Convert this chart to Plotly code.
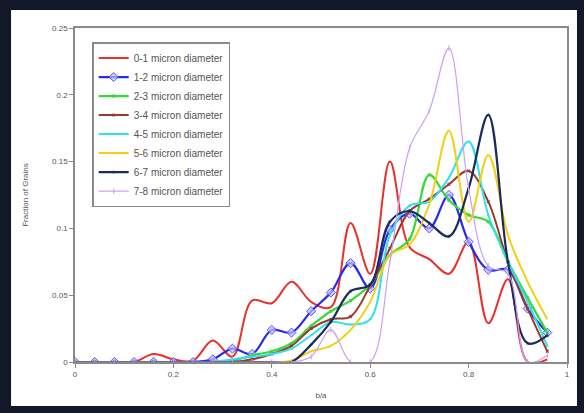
import plotly.graph_objects as go

x_vals = [0, 0.04, 0.08, 0.12, 0.16, 0.2, 0.24, 0.28, 0.32, 0.36, 0.4, 0.44, 0.48,
          0.52, 0.56, 0.6, 0.64, 0.68, 0.72, 0.76, 0.8, 0.84, 0.88, 0.92, 0.96]

d01 = [0, 0, 0, 0, 0.006, 0.002, 0.001, 0.016, 0.004, 0.046, 0.044, 0.060, 0.045,
       0.041, 0.104, 0.066, 0.150, 0.086, 0.077, 0.066, 0.090, 0.029, 0.062, 0.0, 0.002]
d12 = [0, 0, 0, 0, 0, 0, 0, 0.002, 0.010, 0.006, 0.024, 0.022, 0.038,
       0.052, 0.074, 0.055, 0.099, 0.111, 0.100, 0.125, 0.090, 0.069, 0.069, 0.040, 0.022]
d23 = [0, 0, 0, 0, 0, 0, 0, 0, 0.001, 0.005, 0.008, 0.014, 0.027,
       0.038, 0.046, 0.058, 0.080, 0.092, 0.140, 0.121, 0.110, 0.105, 0.075, 0.048, 0.022]
d34 = [0, 0, 0, 0, 0, 0, 0, 0, 0, 0.002, 0.006, 0.012, 0.025,
       0.032, 0.034, 0.057, 0.085, 0.113, 0.122, 0.133, 0.143, 0.120, 0.075, 0.040, 0.008]
d45 = [0, 0, 0, 0, 0, 0, 0, 0, 0.002, 0.004, 0.006, 0.010, 0.020,
       0.030, 0.028, 0.032, 0.095, 0.117, 0.120, 0.138, 0.165, 0.110, 0.075, 0.045, 0.012]
d56 = [0, 0, 0, 0, 0, 0, 0, 0, 0, 0, 0, 0.001, 0.008,
       0.012, 0.024, 0.045, 0.080, 0.088, 0.118, 0.173, 0.105, 0.155, 0.095, 0.060, 0.032]
d67 = [0, 0, 0, 0, 0, 0, 0, 0, 0, 0, 0, 0.0, 0.013,
       0.030, 0.053, 0.058, 0.105, 0.113, 0.104, 0.094, 0.130, 0.185, 0.075, 0.014, 0.020]
d78 = [0, 0, 0, 0, 0, 0, 0, 0, 0, 0, 0, 0, 0.004,
       0.024, 0.0, 0.0, 0.075, 0.160, 0.188, 0.235, 0.130, 0.072, 0.066, 0.0, 0.005]

names = ["0-1 micron diameter", "1-2 micron diameter", "2-3 micron diameter",
         "3-4 micron diameter", "4-5 micron diameter", "5-6 micron diameter",
         "6-7 micron diameter", "7-8 micron diameter"]
series = [d01, d12, d23, d34, d45, d56, d67, d78]

x_ticks = [0, 0.2, 0.4, 0.6, 0.8, 1]
x_tick_labels = ["0", "0.2", "0.4", "0.6", "0.8", "1"]
y_ticks = [0, 0.05, 0.1, 0.15, 0.2, 0.25]
y_tick_labels = ["0", "0.05", "0.1", "0.15", "0.2", "0.25"]

colors = ["#e8312c", "#2a2aef", "#36d936", "#9b3a2a", "#2fe0ee", "#f2cf12", "#1b2c5c", "#c9a2f2"]
widths = [2, 2.2, 2.2, 2, 2, 2, 2.2, 1.2]
markers = [
    dict(size=1, opacity=0),
    dict(symbol="diamond", size=7, color="rgba(190,190,255,0.7)", line=dict(color="#5555ee", width=1)),
    dict(symbol="square", size=3, color="#36d936"),
    dict(symbol="x", size=3, color="#9b3a2a"),
    dict(symbol="triangle-up", size=3, color="#2fe0ee"),
    dict(size=1, opacity=0),
    dict(symbol="star", size=3, color="#1b2c5c"),
    dict(symbol="line-ns-open", size=4, color="#c9a2f2", line=dict(width=1)),
]

fig = go.Figure()
for nm, ys, c, w, mk in zip(names, series, colors, widths, markers):
    fig.add_trace(go.Scatter(
        x=x_vals, y=ys, name=nm, mode="lines+markers",
        line=dict(color=c, width=w, shape="spline", smoothing=1),
        marker=mk,
    ))

fig.add_shape(type="rect", xref="paper", yref="paper",
              x0=-0.130, x1=1.0203, y0=-0.1317, y1=1.0539,
              fillcolor="white", line=dict(width=0), layer="below")

axis_common = dict(showline=True, linecolor="#8a8a8a", linewidth=1.5, mirror=True,
                   ticks="outside", ticklen=4, tickcolor="#8a8a8a",
                   showgrid=False, zeroline=False,
                   tickfont=dict(family="Liberation Sans", size=8, color="#555555"))

fig.update_layout(
    width=584, height=413,
    margin=dict(l=75, r=17, t=28, b=51),
    paper_bgcolor="#121829",
    plot_bgcolor="white",
    font=dict(family="Liberation Sans", color="#555555"),
    xaxis=dict(range=[0, 1], tickvals=x_ticks, ticktext=x_tick_labels,
               title=dict(text="b/a", font=dict(size=8, color="#555555"), standoff=14),
               **axis_common),
    yaxis=dict(range=[0, 0.25], tickvals=y_ticks, ticktext=y_tick_labels,
               title=dict(text="Fraction of Grains", font=dict(size=8, color="#555555"), standoff=22),
               **axis_common),
    legend=dict(x=0.035, y=0.958, xanchor="left", yanchor="top",
                bgcolor="white", bordercolor="#8a8a8a", borderwidth=1.5,
                font=dict(family="Liberation Sans", size=10, color="#555555"),
                tracegroupgap=0, itemwidth=30),
    showlegend=True,
)

fig.write_html("out.html", config={"displayModeBar": False},
               post_script="document.body.style.margin='0';document.body.style.background='#121829';")
